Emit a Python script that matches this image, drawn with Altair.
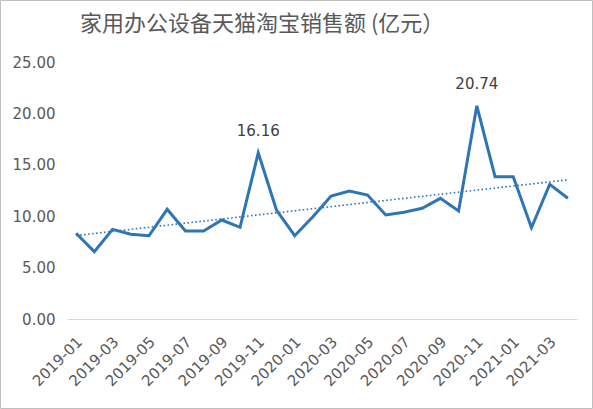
import altair as alt
import pandas as pd

months = ["2019-01","2019-02","2019-03","2019-04","2019-05","2019-06","2019-07","2019-08",
          "2019-09","2019-10","2019-11","2019-12","2020-01","2020-02","2020-03","2020-04",
          "2020-05","2020-06","2020-07","2020-08","2020-09","2020-10","2020-11","2020-12",
          "2021-01","2021-02","2021-03","2021-04"]
sales = [8.34, 6.55, 8.72, 8.24, 8.10, 10.67, 8.56, 8.56, 9.63, 8.92, 16.16, 10.60,
         8.10, 9.95, 11.96, 12.45, 12.06, 10.12, 10.38, 10.77, 11.74, 10.51, 20.74, 13.84,
         13.84, 8.88, 13.10, 11.74]
labels = ["" for _ in months]
labels[10] = "16.16"
labels[22] = "20.74"
y_ticks = [0, 5, 10, 15, 20, 25]
title = "家用办公设备天猫淘宝销售额 (亿元）"

df = pd.DataFrame({"idx": list(range(len(months))), "month": months,
                   "value": sales, "label": labels})

W, H = 510, 257
PL, PT, PR, PB = 67, 62, 16, 90
BLUE = "#2e75b6"
GRAY = "#595959"
FONT = "DejaVu Sans"

label_expr = "[" + ",".join(f"'{m}'" for m in months) + "][datum.value]"

x_enc = alt.X("idx:Q",
              scale=alt.Scale(domain=[-0.5, len(months) - 0.5], nice=False, zero=False),
              axis=alt.Axis(values=list(range(0, len(months), 2)), labelExpr=label_expr,
                            labelAngle=-45, labelAlign="right", labelBaseline="middle",
                            labelPadding=20, labelOffset=3, labelOverlap=False,
                            labelBound=False, ticks=False, grid=False,
                            domainColor="#d9d9d9", domainWidth=1,
                            labelColor=GRAY, labelFontSize=15, labelFont=FONT,
                            title=None))
y_enc = alt.Y("value:Q",
              scale=alt.Scale(domain=[0, 25], nice=False),
              axis=alt.Axis(values=y_ticks, format=".2f", ticks=False, grid=False,
                            domain=False, labelColor=GRAY, labelFontSize=15,
                            labelFont=FONT, labelPadding=12, title=None))

base = alt.Chart(df)

line = base.mark_line(color=BLUE, strokeWidth=3).encode(x=x_enc, y=y_enc)

trend = base.transform_regression("idx", "value", method="linear").mark_line(
    color=BLUE, strokeWidth=1.6, strokeDash=[1.6, 2.4]).encode(x=x_enc, y=y_enc)

text = base.transform_filter("datum.label != ''").mark_text(
    dy=-22, fontSize=15, font=FONT, color="#404040").encode(
    x=x_enc, y=y_enc, text="label:N")

border = alt.Chart(pd.DataFrame({"a": [0]})).mark_rect(
    fill=None, stroke="#bfbfbf", strokeWidth=1).encode(
    x=alt.value(-PL + 0.5), x2=alt.value(W + PR - 0.5),
    y=alt.value(-PT + 0.5), y2=alt.value(H + PB - 0.5))

chart = alt.layer(border, trend, line, text).properties(
    width=W, height=H,
    padding={"left": PL, "top": PT, "right": PR, "bottom": PB},
    autosize=alt.AutoSizeParams(type="none"),
    title=alt.TitleParams(title, anchor="start", frame="group", dx=13, offset=-36,
                          fontSize=22, font="Noto Sans CJK SC", fontWeight="normal",
                          color=GRAY),
    background="white",
).configure_view(stroke=None)

chart.save("out.html", embed_options={"renderer": "svg", "actions": False})
